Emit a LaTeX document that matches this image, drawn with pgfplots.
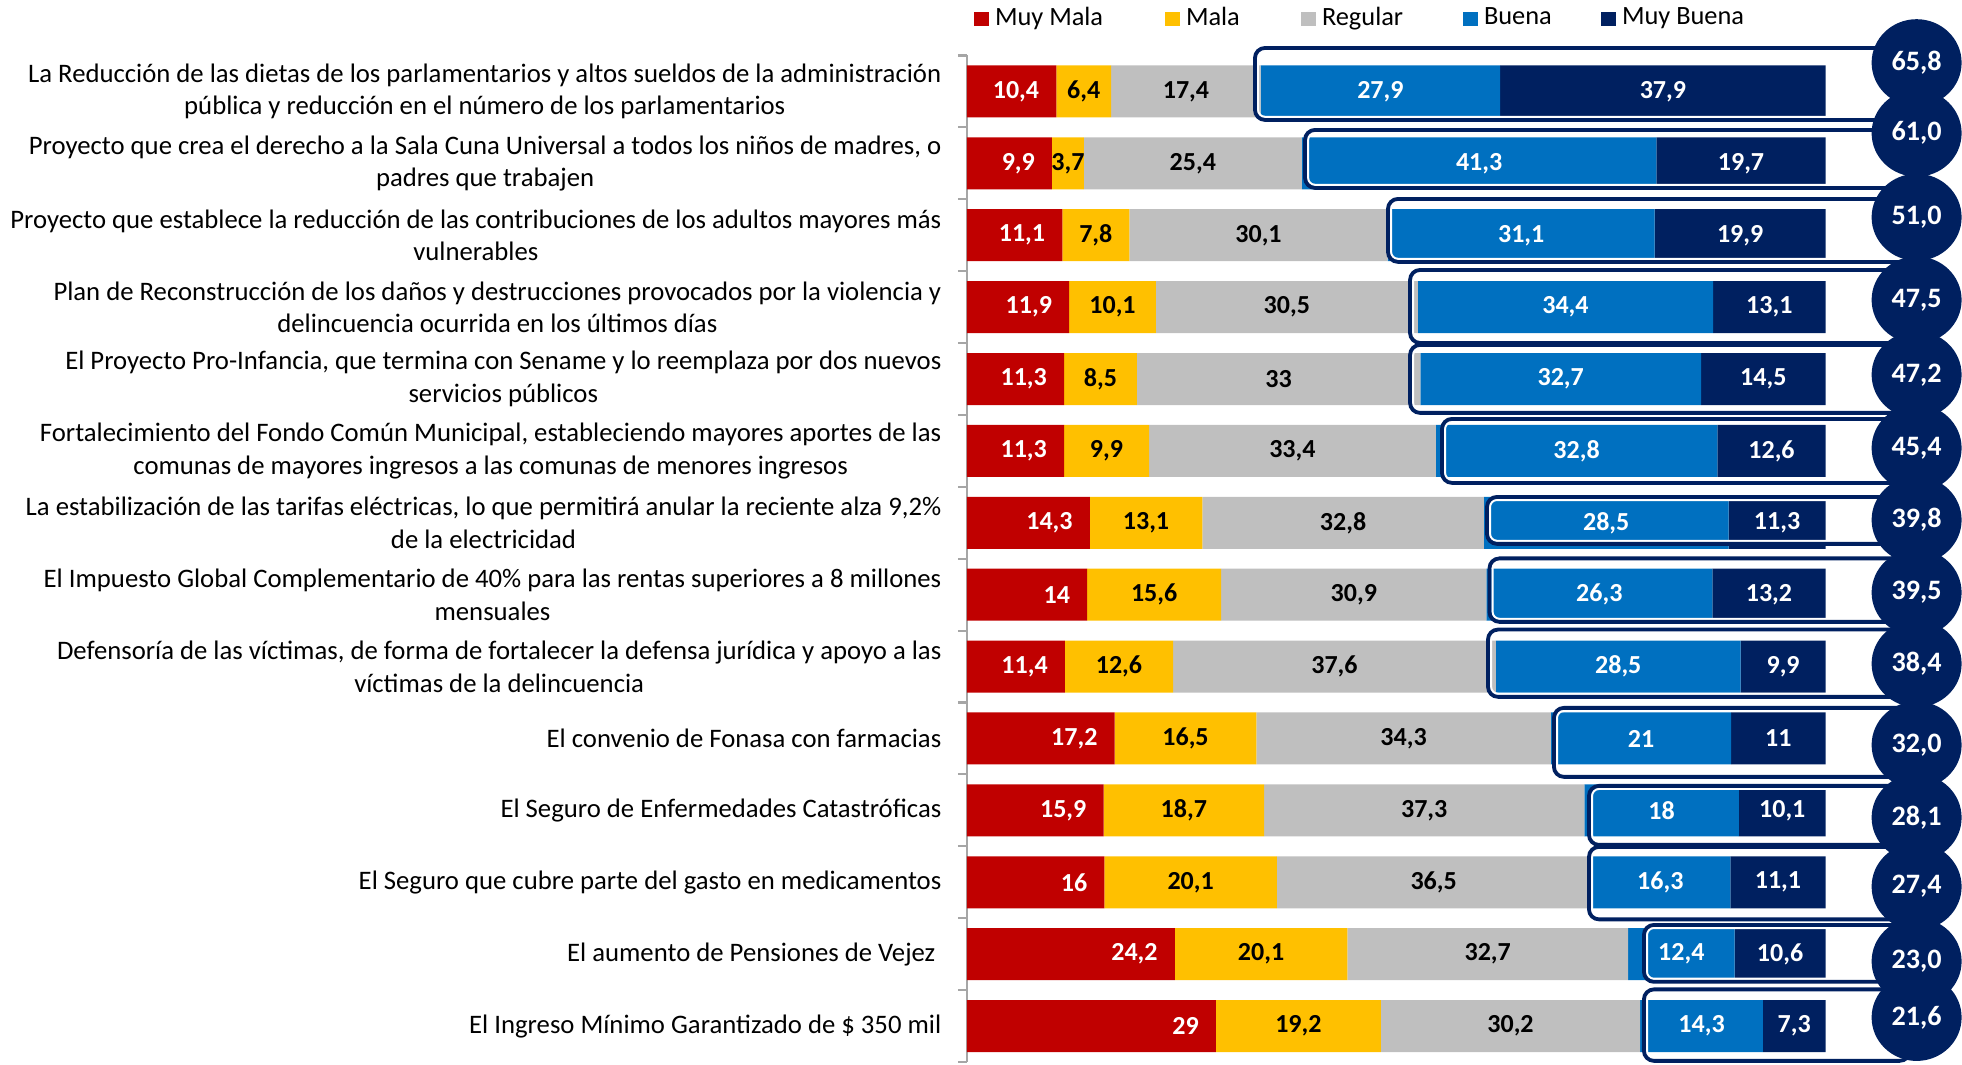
\documentclass[border=0pt]{standalone}
\usepackage{fontspec}
\setmainfont{Carlito}
\usepackage{pgfplots}
\usepackage{pgfplotstable}
\pgfplotsset{compat=1.18}
\usetikzlibrary{shapes.geometric}
\definecolor{cMM}{HTML}{C00000}
\definecolor{cM}{HTML}{FFC000}
\definecolor{cR}{HTML}{BFBFBF}
\definecolor{cB}{HTML}{0070C0}
\definecolor{cMB}{HTML}{002060}
\definecolor{axgray}{HTML}{A6A6A6}
\newcommand\labfont{\fontsize{7.6}{9.25}\selectfont}
\newcommand\valfont{\fontsize{7.4}{9}\selectfont\bfseries}
\newcommand\totfont{\fontsize{8}{9.6}\selectfont\bfseries}
\newcommand\legfont{\fontsize{7.5}{9}\selectfont}

\pgfplotstableread{
row mm m r b mb tot ey
1 10.4 6.4 17.4 27.9 37.9 65.8 -0.40
2 9.9 3.7 25.4 41.3 19.7 61.0 -0.42
3 11.1 7.8 30.1 31.1 19.9 51.0 -0.25
4 11.9 10.1 30.5 34.4 13.1 47.5 -0.10
5 11.3 8.5 33 32.7 14.5 47.2 -0.06
6 11.3 9.9 33.4 32.8 12.6 45.4 -0.04
7 14.3 13.1 32.8 28.5 11.3 39.8 -0.04
8 14 15.6 30.9 26.3 13.2 39.5 -0.03
9 11.4 12.6 37.6 28.5 9.9 38.4 -0.04
10 17.2 16.5 34.3 21 11 32.0 0.09
11 15.9 18.7 37.3 18 10.1 28.1 0.10
12 16 20.1 36.5 16.3 11.1 27.4 0.06
13 24.2 20.1 32.7 12.4 10.6 23.0 0.10
14 29 19.2 30.2 14.3 7.3 21.6 -0.12
}\data

\pgfplotsset{
  lab/.style={draw=none, mark=none, point meta=explicit,
    nodes near coords={\pgfmathprintnumber[fixed,precision=1,use comma,assume math mode=true]{\pgfplotspointmeta}},
    nodes near coords align={center}},
  geom/.style={at={(96.7mm,0.3mm)}, anchor=south west,
    scale only axis, width=85.86mm, height=100.65mm},
}
\newcommand\grp[3]{%
  \draw[white, line width=0.22mm, rounded corners=0.7mm] ([xshift=0.3mm,yshift=-0.3mm]axis cs:#1,#2) rectangle ([xshift=-0.3mm,yshift=0.3mm]axis cs:109.8,#3);
  \draw[cMB, line width=0.38mm, rounded corners=1mm] (axis cs:#1,#2) rectangle (axis cs:109.8,#3);}

\begin{document}
\begin{tikzpicture}
% bars
\begin{axis}[
  geom,
  xbar stacked, bar width=5.2mm,
  xmin=0, xmax=100, ymin=0.5, ymax=14.5, y dir=reverse,
  axis x line=none, xtick=\empty,
  axis y line*=left,
  y axis line style={draw=axgray, line width=0.6pt},
  ytick={1,...,14},
  yticklabels={
{La Reducción de las dietas de los parlamentarios y altos sueldos de la administración\\pública y reducción en el número de los parlamentarios},
{Proyecto que crea el derecho a la Sala Cuna Universal a todos los niños de madres, o\\padres que trabajen},
{Proyecto que establece la reducción de las contribuciones de los adultos mayores más\\vulnerables},
{Plan de Reconstrucción de los daños y destrucciones provocados por la violencia y\\delincuencia ocurrida en los últimos días},
{El Proyecto Pro-Infancia, que termina con Sename y lo reemplaza por dos nuevos\\servicios públicos},
{Fortalecimiento del Fondo Común Municipal, estableciendo mayores aportes de las\\comunas de mayores ingresos a las comunas de menores ingresos},
{La estabilización de las tarifas eléctricas, lo que permitirá anular la reciente alza 9,2\%\\de la electricidad},
{El Impuesto Global Complementario de 40\% para las rentas superiores a 8 millones\\mensuales},
{Defensoría de las víctimas, de forma de fortalecer la defensa jurídica y apoyo a las\\víctimas de la delincuencia},
{El convenio de Fonasa con farmacias},
{El Seguro de Enfermedades Catastróficas},
{El Seguro que cubre parte del gasto en medicamentos},
{El aumento de Pensiones de Vejez\hspace*{0.6mm}},
{El Ingreso Mínimo Garantizado de \$ 350 mil}},
  major tick length=0pt,
  minor ytick={0.5,1.5,...,14.5},
  minor tick length=0.9mm,
  tick align=outside,
  minor tick style={draw=axgray, line width=0.6pt},
  yticklabel style={align=center, font=\labfont, inner sep=0pt, xshift=-2.5mm},
  clip=false,
]
\addplot[fill=cMM, draw=none] table[x=mm, y=row]{\data};
\addplot[fill=cM, draw=none] table[x=m, y=row]{\data};
\addplot[fill=cR, draw=none] table[x=r, y=row]{\data};
\addplot[fill=cB, draw=none] table[x=b, y=row]{\data};
\addplot[fill=cMB, draw=none] table[x=mb, y=row]{\data};
\end{axis}

% outlines, value labels and totals
\begin{axis}[
  geom,
  xmin=0, xmax=100, ymin=0.5, ymax=14.5, y dir=reverse,
  hide axis, clip=false,
]
\grp{33.54}{0.395}{1.396}
\grp{39.37}{1.535}{2.342}
\grp{49.03}{2.495}{3.371}
\grp{51.60}{3.483}{4.498}
\grp{51.60}{4.526}{5.471}
\grp{55.32}{5.555}{6.445}
\grp{60.56}{6.640}{7.293}
\grp{60.85}{7.495}{8.378}
\grp{60.68}{8.485}{9.421}
\grp{68.36}{9.574}{10.534}
\grp{72.44}{10.659}{11.480}
\grp{72.44}{11.508}{12.516}
\grp{78.84}{12.593}{13.385}
\grp{78.84}{13.490}{14.484}
\addplot[lab, nodes near coords align={east},
  every node near coord/.style={font=\valfont, inner sep=0pt, anchor=east, text=white}]
  table[x expr=\thisrow{mm}-1.92, y=row, meta=mm]{\data};
\addplot[lab, every node near coord/.style={font=\valfont, inner sep=0pt, anchor=center, text=black}]
  table[x expr=\thisrow{mm}+0.5*\thisrow{m}, y=row, meta=m]{\data};
\addplot[lab, every node near coord/.style={font=\valfont, inner sep=0pt, anchor=center, text=black}]
  table[x expr=\thisrow{mm}+\thisrow{m}+0.5*\thisrow{r}, y=row, meta=r]{\data};
\addplot[lab, every node near coord/.style={font=\valfont, inner sep=0pt, anchor=center, text=white}]
  table[x expr=\thisrow{mm}+\thisrow{m}+\thisrow{r}+0.5*\thisrow{b}, y=row, meta=b]{\data};
\addplot[lab, every node near coord/.style={font=\valfont, inner sep=0pt, anchor=center, text=white}]
  table[x expr=\thisrow{mm}+\thisrow{m}+\thisrow{r}+\thisrow{b}+0.5*\thisrow{mb}, y=row, meta=mb]{\data};
\addplot[draw=none, mark=none, point meta=explicit,
  nodes near coords={\pgfmathprintnumber[fixed,fixed zerofill,precision=1,use comma,assume math mode=true]{\pgfplotspointmeta}},
  nodes near coords align={center},
  every node near coord/.style={ellipse, fill=cMB, text=white, minimum width=9mm, minimum height=8.7mm, inner sep=0pt, anchor=center, font=\totfont}]
  table[x expr=110.6, y expr=\thisrow{row}+\thisrow{ey}, meta=tot]{\data};
\end{axis}

% legend
\begin{axis}[
  geom,
  xmin=0, xmax=1, ymin=0, ymax=1,
  hide axis,
  legend columns=5,
  legend cell align=left,
  legend image code/.code={\fill[#1] (0mm,-0.72mm) rectangle (1.45mm,0.72mm); \path (2.1mm,0);},
  legend style={draw=none, fill=none, at={(0.00815,1.0363)}, anchor=west,
    inner sep=0pt, outer sep=0pt, font=\legfont,
    /tikz/every odd column/.style={column sep=0pt},
    /tikz/every even column/.style={column sep=0pt},
    /tikz/every node/.append style={inner sep=0pt}},
]
\addlegendimage{fill=cMM, draw=none}
\addlegendentry{\makebox[17mm][l]{Muy Mala}}
\addlegendimage{fill=cM, draw=none}
\addlegendentry{\makebox[11.5mm][l]{Mala}}
\addlegendimage{fill=cR, draw=none}
\addlegendentry{\makebox[14.1mm][l]{Regular}}
\addlegendimage{fill=cB, draw=none}
\addlegendentry{\makebox[11.7mm][l]{Buena}}
\addlegendimage{fill=cMB, draw=none}
\addlegendentry{Muy Buena}
\end{axis}
\pgfresetboundingbox
\path[use as bounding box] (0,0) rectangle (196.2mm,106.5mm);
\end{tikzpicture}
\end{document}
